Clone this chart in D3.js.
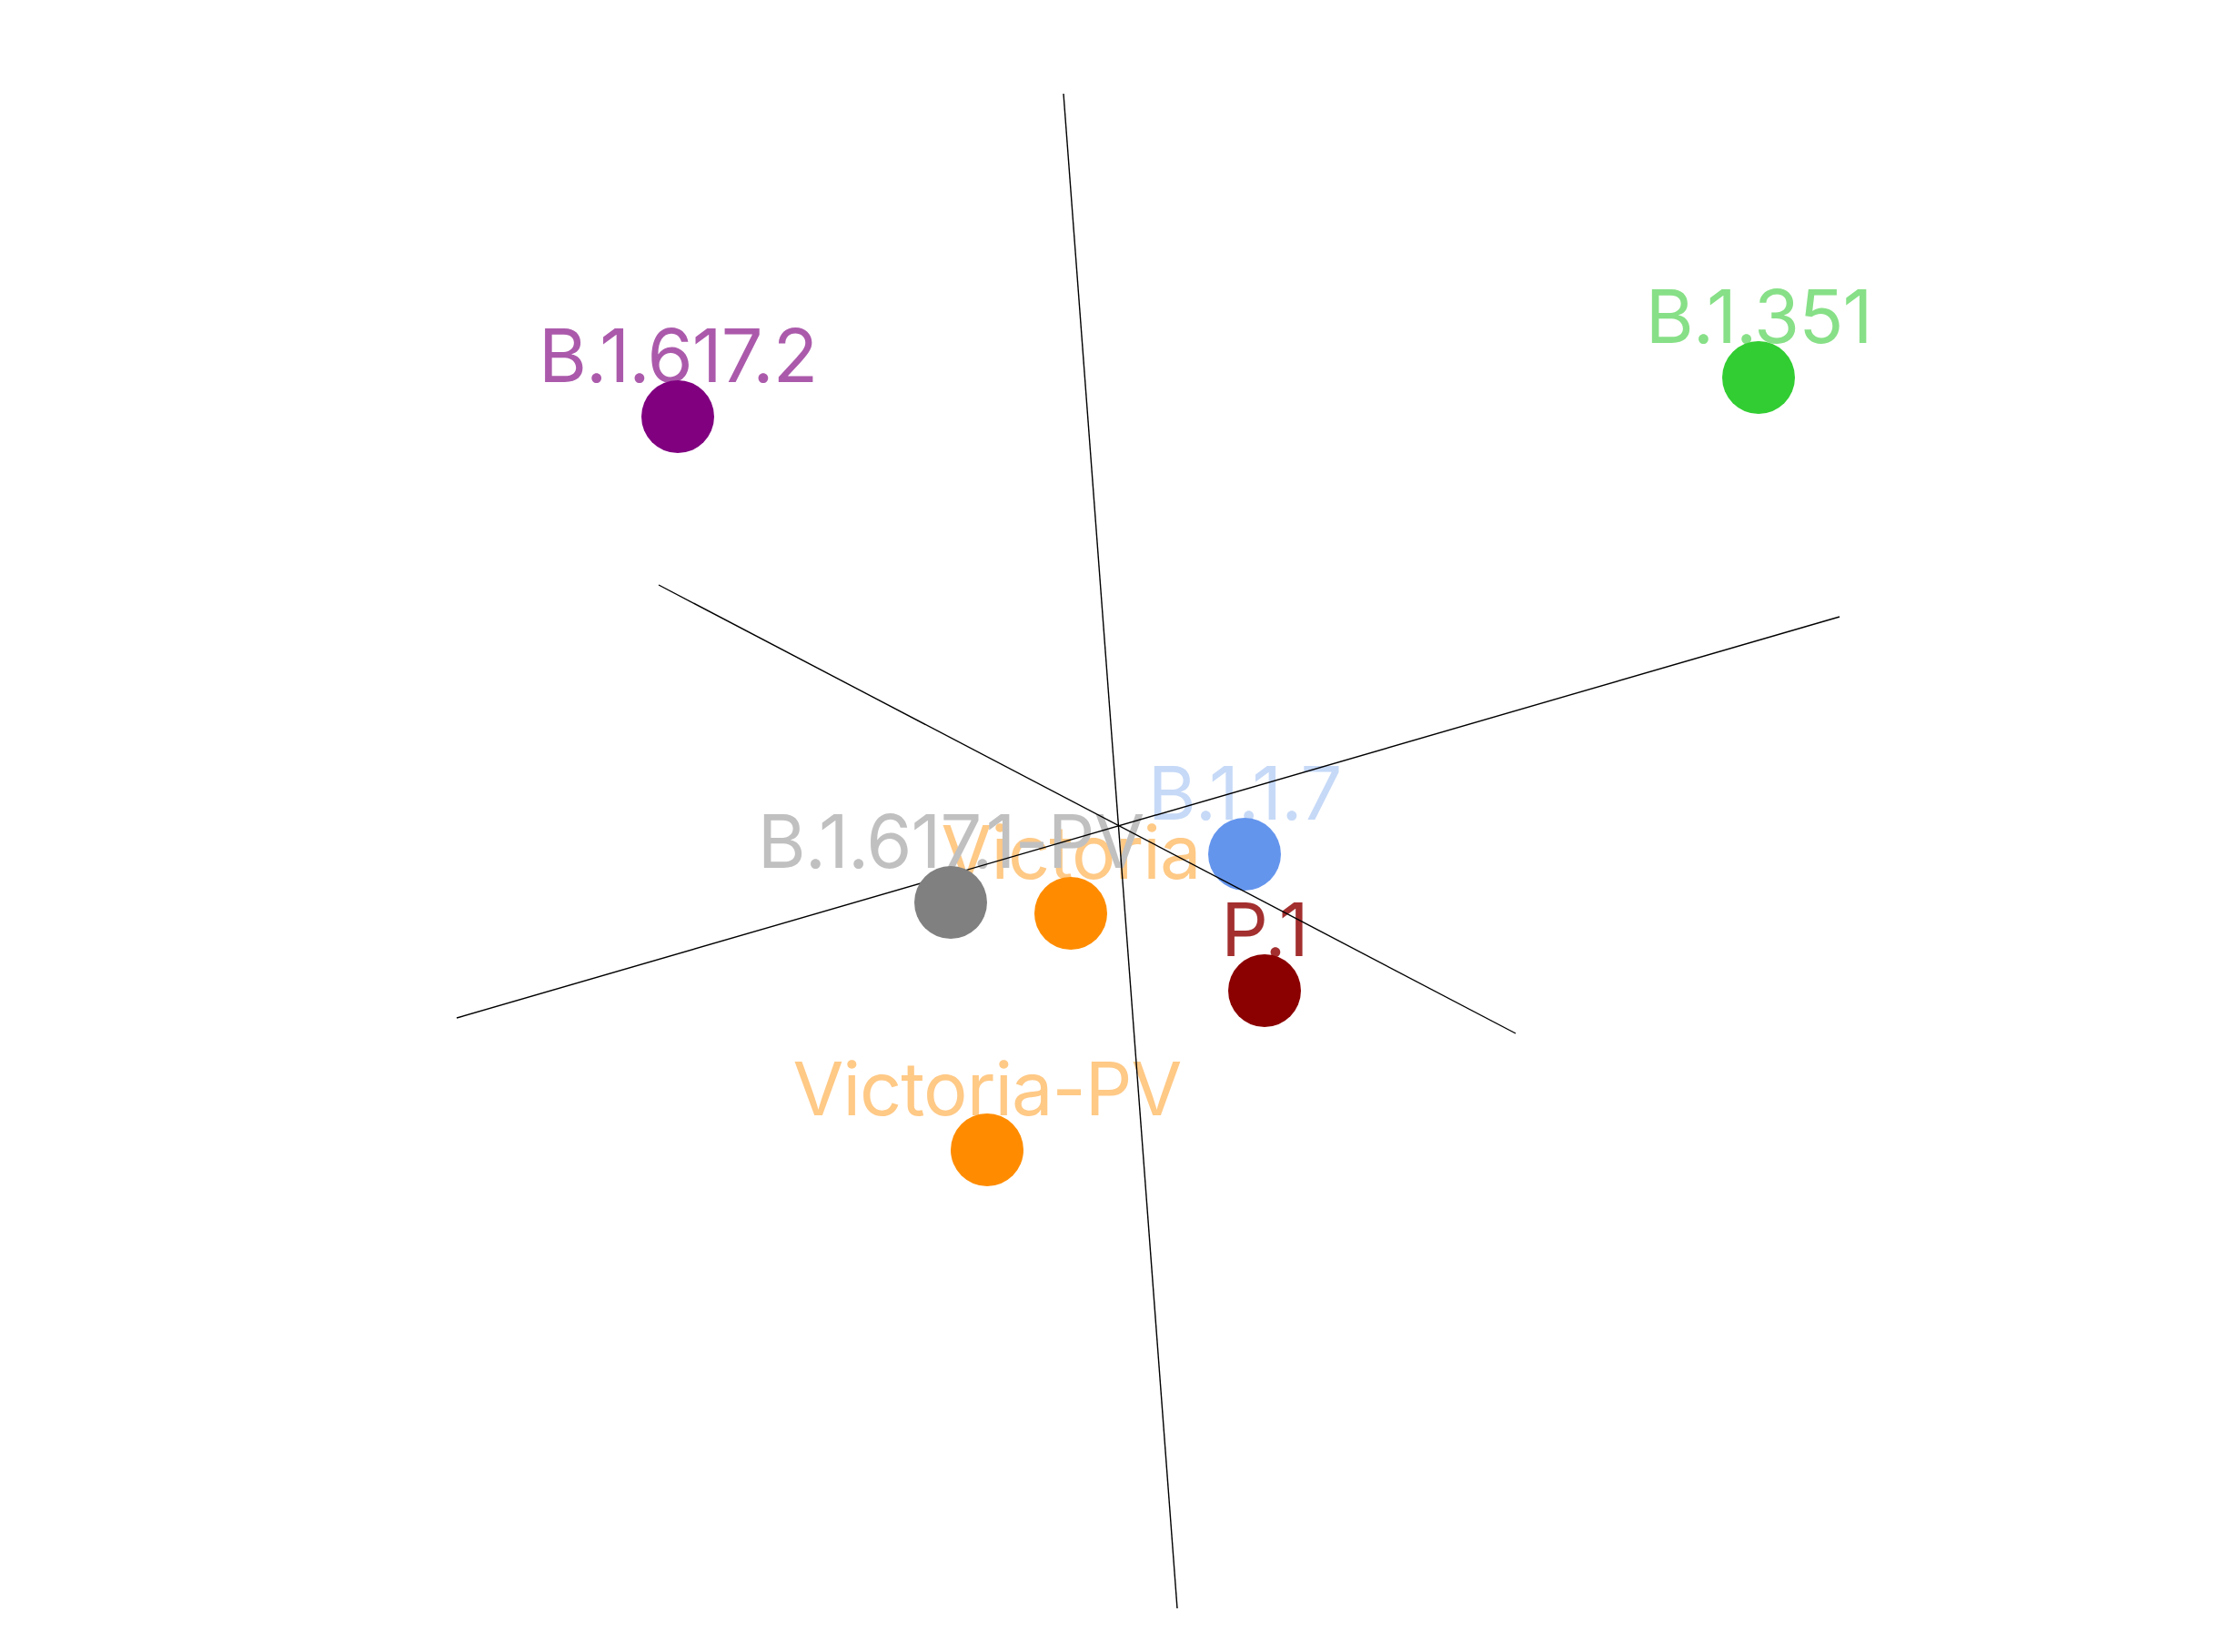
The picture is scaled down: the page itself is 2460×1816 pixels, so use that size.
<!DOCTYPE html>
<html>
<head>
<meta charset="utf-8">
<script src="https://cdn.jsdelivr.net/npm/d3@7"></script>
<style>
  html, body { margin: 0; padding: 0; background: #fff; }
  svg { display: block; }
</style>
</head>
<body>
<svg id="map" width="2460" height="1816"></svg>
<script>
// antigenic map, projected coordinates (map units), z = depth relative to the axes
var strains = ["B.1.617.2", "B.1.351", "B.1.1.7", "Victoria", "B.1.617.1-PV", "P.1", "Victoria-PV"];
var xs     = [-4.85, 7.03, 1.38, -0.53, -1.85, 1.60, -1.45];
var ys     = [ 4.50, 4.93, -0.31, -0.96, -0.84, -1.81, -3.56];
var zs     = [ 1, 1, -1, 1, 1, 1, 1];
var pointColors = ["#800080", "#32cd32", "#6495ed", "#ff8c00", "#808080", "#8b0000", "#ff8c00"];
var labelColors = ["#ab5aab", "#87e087", "#c6d9f7", "#ffc986", "#c0c0c0", "#a32f2f", "#ffc986"];

// the three axes through the origin, as end points
var axisX1 = [-0.61, -5.06, -7.28];
var axisY1 = [ 8.05,  2.65, -2.11];
var axisX2 = [ 0.64,  4.36,  7.92];
var axisY2 = [-8.60, -2.28,  2.30];

var svg = d3.select("#map");
var cx = 1230, cy = 908;

var x = d3.scaleLinear().domain([-10, 10]).range([cx - 1000, cx + 1000]);
var y = d3.scaleLinear().domain([-10, 10]).range([cy + 1000, cy - 1000]);

var pts = strains.map(function(s, i) {
  return {name: s, x: xs[i], y: ys[i], z: zs[i], fill: pointColors[i], text: labelColors[i]};
});
var axes = axisX1.map(function(d, i) {
  return {x1: axisX1[i], y1: axisY1[i], x2: axisX2[i], y2: axisY2[i]};
});

var r = 40;

// labels sit lowest, axes cross over them
svg.append("g").selectAll("text")
  .data(pts)
  .enter().append("text")
    .attr("x", function(d) { return x(d.x); })
    .attr("y", function(d) { return y(d.y) - 38; })
    .attr("text-anchor", "middle")
    .attr("font-family", "Inter, 'Noto Sans', sans-serif")
    .attr("font-size", 81)
    .attr("letter-spacing", -1)
    .attr("fill", function(d) { return d.text; })
    .text(function(d) { return d.name; });

function drawPoints(list) {
  svg.append("g").selectAll("circle")
    .data(list)
    .enter().append("circle")
      .attr("cx", function(d) { return x(d.x); })
      .attr("cy", function(d) { return y(d.y); })
      .attr("r", r)
      .attr("fill", function(d) { return d.fill; });
}

drawPoints(pts.filter(function(d) { return d.z < 0; }));

svg.append("g").selectAll("line")
  .data(axes)
  .enter().append("line")
    .attr("x1", function(d) { return x(d.x1); })
    .attr("y1", function(d) { return y(d.y1); })
    .attr("x2", function(d) { return x(d.x2); })
    .attr("y2", function(d) { return y(d.y2); })
    .attr("stroke", "#000")
    .attr("stroke-width", 1.4);

drawPoints(pts.filter(function(d) { return d.z >= 0; }));
</script>
</body>
</html>
